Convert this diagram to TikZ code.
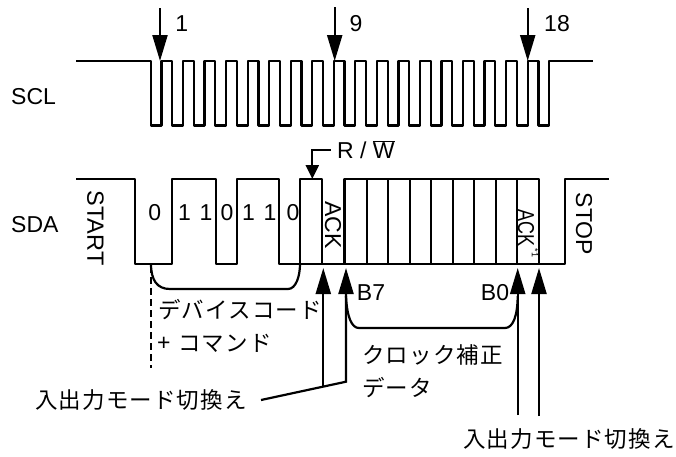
\documentclass[tikz,border=0pt]{standalone}
\usepackage{fontspec}
\setmainfont{Liberation Sans}
\newfontfamily\jp[LetterSpace=5]{Noto Sans CJK JP}
\usetikzlibrary{arrows.meta}
\tikzset{
  wave/.style={draw=black,line width=2.2pt,line join=round},
  bigarrow/.style={draw=black,line width=2.2pt,-{Triangle[length=26pt,width=15pt]}},
  smallarrow/.style={draw=black,line width=2.2pt,-{Triangle[length=14pt,width=13pt]}},
  lbl/.style={inner sep=0pt,font=\fontsize{23}{23}\selectfont,text=black},
  side/.style={inner sep=0pt,font=\fontsize{23.5}{23.5}\selectfont,text=black,rotate=-90},
  jlbl/.style={inner sep=0pt,anchor=west,font=\fontsize{22.5}{23}\selectfont\jp,text=black}
}
\begin{document}
\begin{tikzpicture}[x=1pt,y=-1pt]
\useasboundingbox (0,0) rectangle (676,456);
% SCL
\coordinate (sclA) at (76,61);
\coordinate (sclB) at (592.7,61);
\draw[wave] (sclA)
  \foreach \i in {0,2,...,36}{
    -- ({150.7+\i*10.77},61) -- ({150.7+\i*10.77},125.5)
    -- ({150.7+(\i+1)*10.77},125.5) -- ({150.7+(\i+1)*10.77},61)
  } -- (sclB);
% SDA
\coordinate (sdaA) at (76,179);
\coordinate (sdaB) at (608.7,179);
\draw[wave] (sdaA) -- (135,179) -- (135,264) -- (172.3,264) -- (172.3,179) -- (215.7,179)
  -- (215.7,264) -- (236.7,264) -- (236.7,179) -- (279.3,179) -- (279.3,264) -- (300,264)
  -- (300,179) -- (322,179) -- (322,264) -- (344.5,264) -- (344.5,179) -- (539,179)
  -- (539,264) -- (565,264) -- (565,179) -- (sdaB);
\draw[wave] (300,264) -- (322,264) (344.5,264) -- (539,264);
\foreach \x in {366.7,388.3,410,431,452.7,474,495.7,517.3}
  \draw[wave] (\x,179) -- (\x,264);
% top arrows
\coordinate (a1s) at (160,8);   \coordinate (a1e) at (160,61);
\coordinate (a9s) at (334.7,7); \coordinate (a9e) at (334.7,61);
\coordinate (a18s) at (527.7,8);\coordinate (a18e) at (527.7,61);
\draw[bigarrow] (a1s) -- (a1e);
\draw[bigarrow] (a9s) -- (a9e);
\draw[bigarrow] (a18s) -- (a18e);
% R/W
\coordinate (rwa) at (330.7,150);
\coordinate (rwb) at (312.3,179);
\draw[smallarrow] (rwa) -| (rwb);
% up arrows
\coordinate (u1) at (323.3,268);
\coordinate (u1b) at (323.3,385.5);
\coordinate (u2) at (346,268);
\coordinate (u2b) at (346,381.7);
\coordinate (u0) at (261,400);
\coordinate (u3) at (517.7,268);
\coordinate (u3b) at (517.7,415);
\coordinate (u4) at (539,268);
\coordinate (u4b) at (539,416);
\draw[bigarrow] (u1b) -- (u1);
\draw[bigarrow] (u0) -- (u2b) -- (u2);
\draw[bigarrow] (u3b) -- (u3);
\draw[bigarrow] (u4b) -- (u4);
% braces
\draw[wave] (151,264) .. controls (151,280) and (157,289) .. (170,289) -- (288,289)
  .. controls (296,289) and (300,276) .. (300,264);
\draw[wave] (346,296) .. controls (347,318) and (352,328) .. (359,328) -- (505,328)
  .. controls (513,328) and (517.5,316) .. (517.7,296);
\draw[draw=black,line width=2.2pt,dash pattern=on 7pt off 4pt] (151.3,266) -- (151.3,368);
% texts
\node[lbl,anchor=west] (scl) at (11,97) {SCL};
\node[lbl,anchor=west] (sda) at (11,225) {SDA};
\node[lbl] (n1) at (181.7,24) {1};
\node[lbl] (n9) at (356,24) {9};
\node[lbl] (n18) at (557,24) {18};
\node[lbl,anchor=west] (rw) at (337,150) {R / $\overline{\mbox{W}}$};
\node[side] (start) at (95.5,228) {START};
\node[side,font=\fontsize{23}{23}\selectfont] (stop) at (584,224) {STOP};
\node[side,font=\fontsize{23}{23}\selectfont] (ack) at (333,225) {ACK};
\node[side,font=\fontsize{23}{23}\selectfont] (ack2) at (526,228) {\scalebox{0.78}[1]{ACK}};
\node[inner sep=0pt,rotate=-90,font=\fontsize{9}{9}\selectfont] (ackn) at (535,253) {*1};
\foreach \t/\x [count=\k] in {0/154.7,1/184.5,1/206,0/227,1/248.5,1/270,0/293}
  \node[lbl] (b\k) at (\x,213) {\t};
\node[lbl] (b7) at (371,293) {B7};
\node[lbl] (b0) at (495,293) {B0};
\node[jlbl] (t1) at (158,310) {デバイスコード};
\node[lbl,anchor=west] (plus) at (157,344) {+};
\node[jlbl] (t2) at (178,343) {コマンド};
\node[jlbl] (t3) at (362,355) {クロック補正};
\node[jlbl] (t4) at (362,388) {データ};
\node[jlbl] (t5) at (35,400) {入出力モード切換え};
\node[jlbl] (t6) at (463,439) {入出力モード切換え};
\end{tikzpicture}
\end{document}
